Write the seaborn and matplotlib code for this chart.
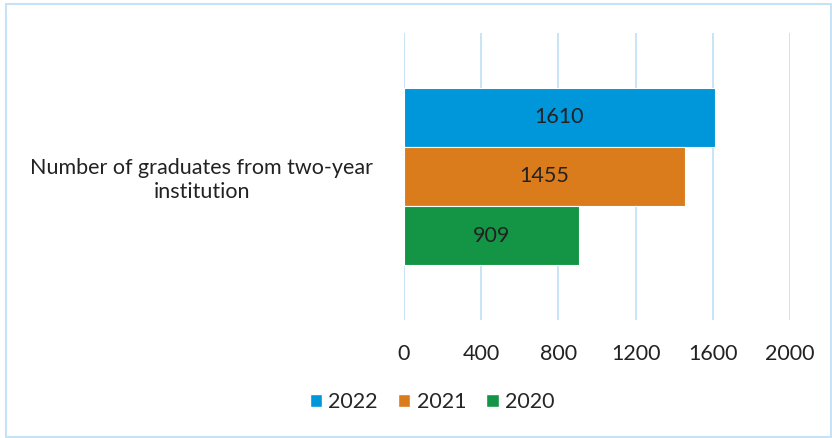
import matplotlib
matplotlib.use("Agg")
import matplotlib.pyplot as plt
import seaborn as sns
import pandas as pd
from matplotlib.patches import Rectangle, Patch

categories = ["Number of graduates from two-year\ninstitution"]
years = ["2022", "2021", "2020"]
values_2022 = [1610]
values_2021 = [1455]
values_2020 = [909]
colors = ["#0096DA", "#DA7B1C", "#149545"]
xticks = [0, 400, 800, 1200, 1600, 2000]

rows = []
for yr, vals in zip(years, [values_2022, values_2021, values_2020]):
    for c, v in zip(categories, vals):
        rows.append({"category": c, "year": yr, "value": v})
df = pd.DataFrame(rows)

sns.set_style("white")
plt.rcParams["font.family"] = ["Lato", "DejaVu Sans"]
FS = 15.5

fig = plt.figure(figsize=(8.32, 4.38), dpi=100)
ax = fig.add_axes([404/832, 1-320/438, (790-404)/832, (320-33)/438])

sns.barplot(data=df, y="category", x="value", hue="year", hue_order=years,
            palette=colors, orient="h", width=0.62, ax=ax, legend=False,
            saturation=1, edgecolor="white", linewidth=0.8)

for cont in ax.containers:
    ax.bar_label(cont, label_type="center", fontsize=FS, color="#222222")

ax.set_xlim(0, 2000)
ax.set_xticks(xticks)
ax.set_xticklabels([str(t) for t in xticks], fontsize=FS, color="#222222")
ax.tick_params(axis="x", length=0, pad=17)
ax.tick_params(axis="y", length=0, pad=22, labelsize=FS, labelcolor="#222222")
for lab in ax.get_yticklabels():
    lab.set_multialignment("center")
    lab.set_linespacing(1.25)
ax.set_xlabel("")
ax.set_ylabel("")
ax.grid(axis="x", color="#C5E2F7", linewidth=1.3)
ax.set_axisbelow(True)
for s in ax.spines.values():
    s.set_visible(False)

handles = [Patch(facecolor=c, label=y) for c, y in zip(colors, years)]
fig.legend(handles=handles, loc="center", bbox_to_anchor=(432/832, 1-402/438),
           ncol=3, frameon=False, fontsize=FS, handlelength=0.56, handleheight=0.56,
           handletextpad=0.3, columnspacing=0.95)

fig.add_artist(Rectangle((6/832, 1/438), 825/832, 433/438, transform=fig.transFigure,
                         fill=False, edgecolor="#C5E2F7", linewidth=1.5))

fig.savefig("out.png", dpi=100)
